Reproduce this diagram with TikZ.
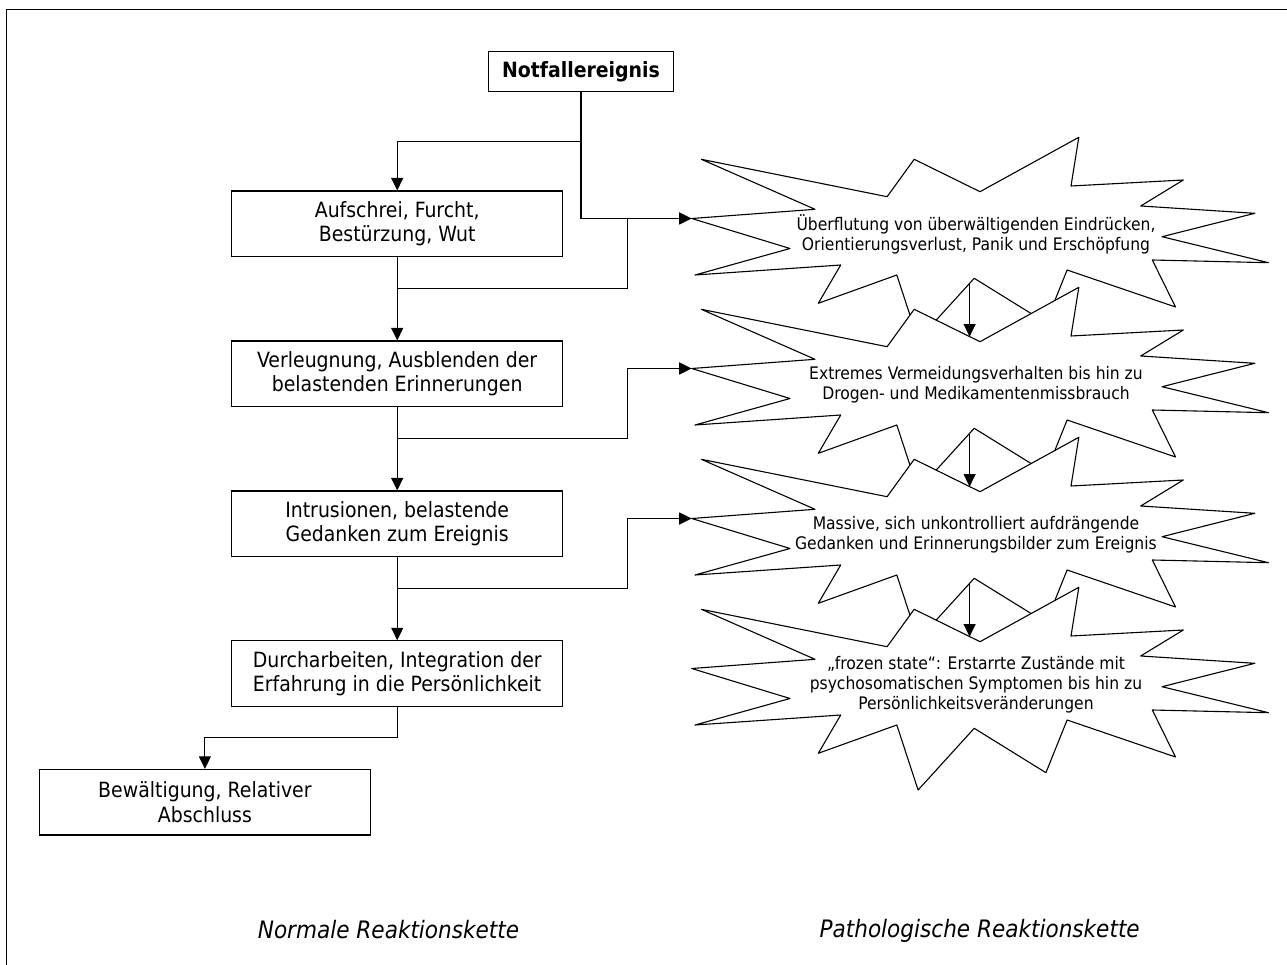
\documentclass[tikz,border=0pt]{standalone}
\usepackage{fontspec}
\setmainfont{DejaVu Sans Condensed}
\usetikzlibrary{arrows.meta}

\tikzset{
  % jagged "explosion" outline, origin at the text centre
  burst/.pic={
    \draw[fill=white,line join=round]
      (-284.3,-16) -- (-161,-25.2) -- (-274.7,-75.2) -- (-88.9,-37.8)
      -- (-61.8,-75.2) -- (4,-42.8) -- (102.8,-97.2) -- (95,-48.5)
      -- (207.3,-54.5) -- (164.7,-28.5) -- (278.9,-21.2) -- (186,2.2)
      -- (292.5,28.2) -- (176.3,25.5) -- (199.5,72.5) -- (91.1,35.5)
      -- (69.9,88.2) -- (-1.8,43.8) -- (-57.9,105.5) -- (-79.2,40.5)
      -- (-157.7,68.8) -- (-135.3,30.5) -- (-281,40.5) -- (-186,14) -- cycle;
    \coordinate (-left) at (-284.3,-16);
    \coordinate (-top) at (-6.4,-47.9);
    \coordinate (-bot) at (-6.4,48.9);
  }
}

\begin{document}
\begin{tikzpicture}[x=1pt,y=-1pt,line width=1.1pt,
  arr/.style={-{Triangle[length=12.5pt,width=12pt]}},
  stagebox/.style={draw,fill=white,minimum width=331.3pt,minimum height=65.6pt,
    inner sep=0pt,align=center,font=\fontsize{21}{24.5}\selectfont},
  topbox/.style={draw,fill=white,minimum width=184.4pt,minimum height=40pt,
    inner sep=0pt,font=\fontsize{21}{24.5}\selectfont\bfseries},
  bursttext/.style={inner sep=0pt,align=center,font=\fontsize{17.3}{20}\selectfont},
  caption/.style={inner sep=0pt,font=\fontsize{24}{28}\selectfont\itshape}]

\useasboundingbox (0,0) rectangle (1287,965);

% outer frame (only its top and left sides fall inside the page)
\coordinate (fbl) at (6.7,965);
\coordinate (ftl) at (6.7,9.7);
\coordinate (ftr) at (1287,9.7);
\draw[line width=1.3pt] (fbl) -- (ftl) -- (ftr);

% normal reaction chain
\node[topbox] (n0) at (581,71.7) {Notfallereignis};
\node[stagebox] (b1) at (397.2,223.8) {Aufschrei, Furcht,\\Bestürzung, Wut};
\node[stagebox] (b2) at (397.2,373.8) {Verleugnung, Ausblenden der\\belastenden Erinnerungen};
\node[stagebox] (b3) at (397.2,523.8) {Intrusionen, belastende\\Gedanken zum Ereignis};
\node[stagebox] (b4) at (397.2,673.6) {Durcharbeiten, Integration der\\Erfahrung in die Persönlichkeit};
\node[stagebox] (b5) at (204.9,802.2) {Bewältigung, Relativer\\Abschluss};

% pathological reaction chain
\pic (p1) at (976,234.5) {burst};
\node[bursttext] (s1) at (976,234.5) {Überflutung von überwältigenden Eindrücken,\\Orientierungsverlust, Panik und Erschöpfung};
\pic (p2) at (976,384.5) {burst};
\node[bursttext] (s2) at (976,384.5) {Extremes Vermeidungsverhalten bis hin zu\\Drogen- und Medikamentenmissbrauch};
\pic (p3) at (976,534.5) {burst};
\node[bursttext] (s3) at (976,534.5) {Massive, sich unkontrolliert aufdrängende\\Gedanken und Erinnerungsbilder zum Ereignis};
\pic (p4) at (976,684.5) {burst};
\node[bursttext] (s4) at (976,684.5) {„frozen state“: Erstarrte Zustände mit\\psychosomatischen Symptomen bis hin zu\\Persönlichkeitsveränderungen};

% junction points of the connectors
\coordinate (j0) at (581,141.7);
\coordinate (kx) at (627.2,0);
\coordinate (m1) at (397.2,288.3);
\coordinate (m2) at (397.2,438.3);
\coordinate (m3) at (397.2,588.3);
\coordinate (m4) at (397.2,737.7);

% connectors
\draw[arr] (n0.south) -- (j0) -| (b1.north);
\draw[arr] (j0) |- (p1-left);
\draw[arr] (b1.south) -- (b2.north);
\draw (m1) -| (kx |- p1-left);
\draw[arr] (b2.south) -- (b3.north);
\draw[arr] (m2) -- (m2 -| kx) |- (p2-left);
\draw[arr] (b3.south) -- (b4.north);
\draw[arr] (m3) -- (m3 -| kx) |- (p3-left);
\draw[arr] (b4.south) -- (m4) -| (b5.north);

\draw[arr] (p1-bot) -- (p2-top);
\draw[arr] (p2-bot) -- (p3-top);
\draw[arr] (p3-bot) -- (p4-top);

% captions
\node[caption] (c1) at (388.5,930) {Normale Reaktionskette};
\node[caption] (c2) at (979.7,931) {Pathologische Reaktionskette};
\end{tikzpicture}
\end{document}
